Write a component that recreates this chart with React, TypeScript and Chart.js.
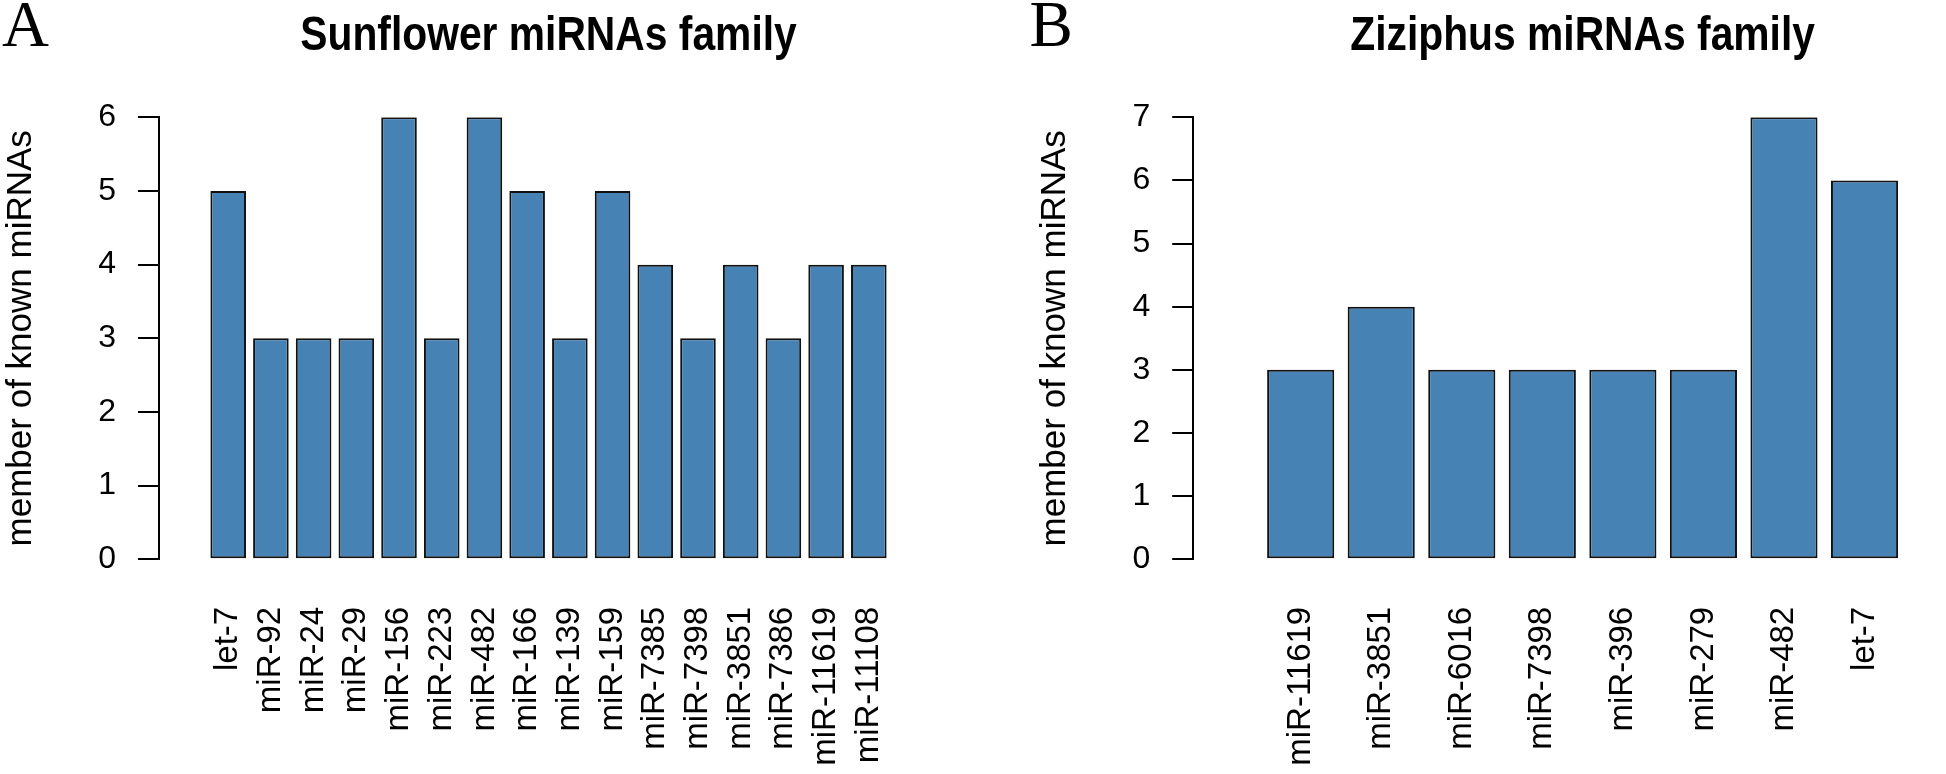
import React, { useEffect, useRef } from "react";
import { Chart, registerables } from "chart.js";

Chart.register(...registerables);

// ---- Data ----
const sunflowerFamilies = [
  "let-7", "miR-92", "miR-24", "miR-29", "miR-156", "miR-223", "miR-482", "miR-166",
  "miR-139", "miR-159", "miR-7385", "miR-7398", "miR-3851", "miR-7386", "miR-11619", "miR-11108",
];
const sunflowerCounts = [5, 3, 3, 3, 6, 3, 6, 5, 3, 5, 4, 3, 4, 3, 4, 4];
const sunflowerYMax = 6;

const ziziphusFamilies = [
  "miR-11619", "miR-3851", "miR-6016", "miR-7398", "miR-396", "miR-279", "miR-482", "let-7",
];
const ziziphusCounts = [3, 4, 3, 3, 3, 3, 7, 6];
const ziziphusYMax = 7;

const yAxisTitle = "member of known miRNAs";
const sunflowerTitle = "Sunflower miRNAs family";
const ziziphusTitle = "Ziziphus miRNAs family";

// ---- Layout constants (R barplot style: width 1, space 0.2) ----
const BAR_SPACE = 0.2;
const BAR_STEP = 1 + BAR_SPACE;
const H = 774;
const FAMILY = '"Liberation Sans", Arial, Helvetica, sans-serif';

type PanelProps = {
  letter: string;
  title: string;
  labels: string[];
  values: number[];
  yMax: number;
  canvasLeft: number;
  canvasWidth: number;
  axisWidth: number;
  padRight: number;
  yTitlePad: number;
  letterX: number;
};

function Panel(p: PanelProps) {
  const ref = useRef<HTMLCanvasElement | null>(null);
  useEffect(() => {
    if (!ref.current) return;
    const n = p.labels.length;
    const centers = p.labels.map((_, i) => BAR_SPACE + 0.5 + i * BAR_STEP);
    const lo = BAR_SPACE;
    const hi = n * BAR_STEP;
    const ext = 0.04 * (hi - lo);
    const textPlugin = {
      id: "panelText",
      afterDraw(chart: any) {
        const ctx = chart.ctx;
        const area = chart.chartArea;
        ctx.save();
        ctx.font = '65px "Liberation Serif", "Times New Roman", serif';
        ctx.fillStyle = "#000";
        ctx.textBaseline = "alphabetic";
        ctx.textAlign = "left";
        ctx.fillText(p.letter, p.letterX, 46);
        ctx.restore();

        // main title (condensed bold, centred on the plot region)
        ctx.save();
        const cx = (area.left + area.right) / 2;
        ctx.translate(cx, 50);
        ctx.scale(0.85, 1);
        ctx.font = "bold 48px " + FAMILY;
        ctx.fillStyle = "#000";
        ctx.textAlign = "center";
        ctx.textBaseline = "alphabetic";
        ctx.fillText(p.title, 0, 0);
        ctx.restore();
      },
    };
    const chart = new Chart(ref.current, {
      type: "bar",
      data: {
        datasets: [
          {
            data: p.values.map((v, i) => ({ x: centers[i], y: v })),
            backgroundColor: "#4682B4",
            borderColor: "#111111",
            borderWidth: 2,
            borderSkipped: false,
            barPercentage: 1 / BAR_STEP,
            categoryPercentage: 1,
          },
        ],
      },
      options: {
        responsive: false,
        animation: false,
        devicePixelRatio: 1,
        layout: { padding: { left: 0, right: p.padRight, top: 117.3, bottom: 0 } },
        plugins: {
          legend: { display: false },
          tooltip: { enabled: false },
          title: { display: false },
        },
        scales: {
          x: {
            type: "linear",
            min: lo - ext,
            max: hi + ext,
            grid: { display: false, drawTicks: false },
            border: { display: false },
            afterBuildTicks(scale: any) {
              scale.ticks = centers.map((c) => ({ value: c }));
            },
            afterFit(scale: any) {
              scale.height = H - 559.3;
            },
            ticks: {
              autoSkip: false,
              maxRotation: 90,
              minRotation: 90,
              padding: 47.5,
              color: "#000",
              font: { family: FAMILY, size: 33 },
              callback: (_v: any, i: number) => p.labels[i],
            },
          },
          y: {
            min: 0,
            max: p.yMax,
            afterFit(scale: any) {
              scale.width = p.axisWidth;
            },
            ticks: {
              stepSize: 1,
              padding: 22,
              color: "#000",
              font: { family: FAMILY, size: 32 },
            },
            grid: {
              drawOnChartArea: false,
              drawTicks: true,
              tickLength: 21,
              color: "#000",
              lineWidth: 2,
            },
            border: { display: true, color: "#000", width: 2 },
            title: {
              display: true,
              text: yAxisTitle,
              color: "#000",
              font: { family: FAMILY, size: 35, lineHeight: 1.2 },
              padding: { top: p.yTitlePad, bottom: 0 },
            },
          },
        },
      },
      plugins: [textPlugin],
    } as any);
    return () => chart.destroy();
  }, []);
  return (
    <canvas
      ref={ref}
      width={p.canvasWidth}
      height={H}
      style={{ position: "absolute", left: p.canvasLeft, top: 0, display: "block" }}
    />
  );
}

export default function App() {
  return (
    <div
      style={{
        position: "absolute",
        left: 0,
        top: 0,
        width: 1946,
        height: H,
        overflow: "hidden",
        background: "#fff",
      }}
    >
      <Panel
        letter="A"
        title={sunflowerTitle}
        labels={sunflowerFamilies}
        values={sunflowerCounts}
        yMax={sunflowerYMax}
        canvasLeft={0}
        canvasWidth={1000}
        axisWidth={159}
        padRight={62}
        yTitlePad={0.5}
        letterX={2}
      />
      <Panel
        letter="B"
        title={ziziphusTitle}
        labels={ziziphusFamilies}
        values={ziziphusCounts}
        yMax={ziziphusYMax}
        canvasLeft={1000}
        canvasWidth={1034}
        axisWidth={193.2}
        padRight={62}
        yTitlePad={34.5}
        letterX={29.5}
      />
    </div>
  );
}
